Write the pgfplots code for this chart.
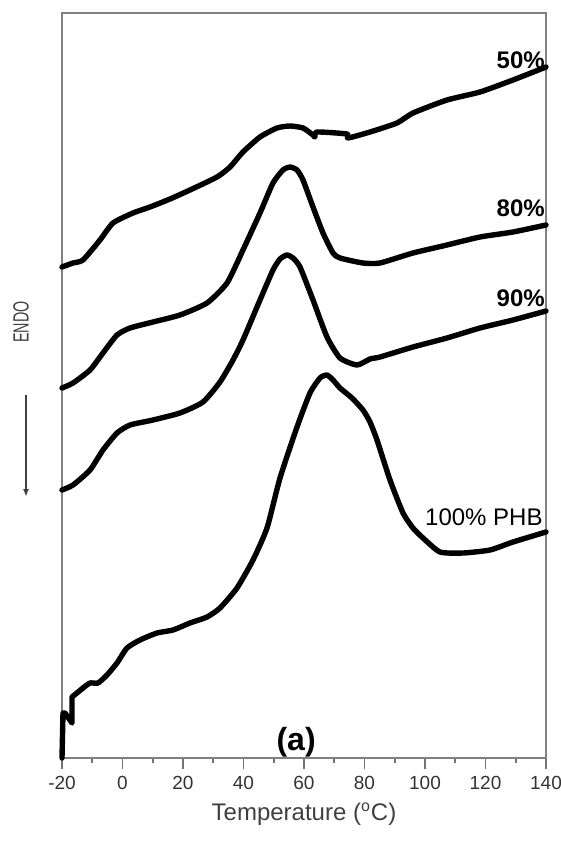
\documentclass[border=0pt]{standalone}
\usepackage{pgfplots}
\pgfplotsset{compat=1.18}
\usetikzlibrary{arrows.meta}
\usepackage{fontspec}
\setmainfont{Liberation Sans}
\begin{document}
\begin{tikzpicture}
\pgfplotsset{dsc/.style={black, no markers, line width=2.7pt, line join=round, line cap=round, smooth, tension=0.35}}
\begin{axis}[
    scale only axis,
    width=242pt, height=372.5pt,
    xmin=-20, xmax=140, ymin=0, ymax=745,
    axis line style={black!50, line width=0.9pt},
    xtick={-20,0,...,140},
    minor x tick num=1,
    ytick=\empty,
    xtick pos=bottom,
    tick align=outside,
    major tick length=5.5pt,
    minor tick length=2.5pt,
    every tick/.style={black!55, line width=0.8pt},
    tick label style={font=\fontsize{9.5}{11}\selectfont, text=black!80},
    /pgf/number format/assume math mode=true,
    xlabel={Temperature (\textsuperscript{o}C)},
    xlabel style={font=\fontsize{12}{14}\selectfont, text=black!75},
    clip=false,
]
% 100% PHB (start-up step, then the curve)
\addplot[dsc, sharp plot] coordinates {
    (-20,0) (-19.67,45) (-19.0,45) (-16.7,35) (-16.7,61) (-13.06,70)
};
\addplot[dsc] coordinates {
    (-13.06,70) (-10.74,75)
    (-8.1,75) (-5.12,83) (-1.82,95) (1.49,110) (5.79,118) (11.40,125) (16.69,128)
    (22.31,135) (27.93,141) (32.23,150) (37.85,170) (43.14,198) (47.77,230)
    (52.07,280) (57.69,331) (61.98,365) (65.29,380) (67.60,383) (69.6,378)
    (71.90,370) (75.87,360) (79.50,348) (81.82,336) (84.13,318) (88.43,278)
    (92.73,245) (96.03,230) (99.34,220) (104.96,206) (112.56,205) (121.49,208)
    (129.09,216) (140,226)
};
% 90%
\addplot[dsc] coordinates {
    (-20,268) (-16.36,273) (-10.74,288) (-6.45,308) (-1.82,325) (2.48,333)
    (10.08,338) (19.0,345) (26.61,356) (32.23,376) (36.53,398) (39.83,418)
    (45.45,458) (49.75,488) (52.07,499) (54.38,503) (56.36,500) (58.68,491)
    (62.98,458) (67.60,421) (71.90,400) (77.52,393) (81.82,399) (85.12,401)
    (96.03,411) (107.27,420) (118.18,430) (129.09,438) (140,447)
};
% 80%
\addplot[dsc] coordinates {
    (-20,370) (-16.36,375) (-10.74,388) (-6.45,405) (-1.82,423) (2.48,430)
    (10.08,436) (19.0,443) (27.93,455) (34.55,475) (39.83,508) (45.45,545)
    (49.75,575) (53.06,588) (55.37,591) (57.69,588) (59.67,578) (62.98,551)
    (66.28,525) (69.59,505) (71.90,500) (79.50,495) (85.12,495) (96.03,505)
    (107.27,513) (118.18,521) (129.09,526) (140,533)
};
% 50%
\addplot[dsc] coordinates {
    (-20,491) (-16.36,495) (-13.06,498) (-7.44,518) (-3.14,535) (3.47,545)
    (9.09,551) (15.70,559) (22.31,568) (31.24,581) (35.54,591) (39.83,606)
    (45.45,621) (51.07,630) (55.37,632) (59.67,630) (62.98,623) (63.6,621)
    (64.30,626) (74.21,624) (74.55,620) (81.82,626) (90.74,635) (96.03,645)
    (107.27,658) (118.18,666) (129.09,678) (140,691)
};
\node[anchor=east, inner sep=0pt, font=\fontsize{12}{14}\selectfont\bfseries] at (axis cs:139.7,698) {50\%};
\node[anchor=east, inner sep=0pt, font=\fontsize{12}{14}\selectfont\bfseries] at (axis cs:139.7,550) {80\%};
\node[anchor=east, inner sep=0pt, font=\fontsize{12}{14}\selectfont\bfseries] at (axis cs:139.7,460) {90\%};
\node[anchor=east, inner sep=0pt, font=\fontsize{12}{14}\selectfont] at (axis cs:139,241) {100\% PHB};
\node[inner sep=0pt, font=\fontsize{16}{18}\selectfont\bfseries] at (axis cs:57.4,16) {(a)};
\node[rotate=90, inner sep=0pt, font=\fontsize{11}{13}\selectfont, text=black!75] at (axis cs:-33.5,436) {\scalebox{0.65}[1]{ENDO}};
\draw[black!75, line width=0.8pt, -{Latex[length=4pt,width=3pt]}] (axis cs:-31.9,363) -- (axis cs:-31.9,261);
\coordinate (bbl) at (rel axis cs:-0.1281,-0.11275);
\coordinate (btr) at (rel axis cs:1.0310,1.01745);
\end{axis}
\pgfresetboundingbox
\useasboundingbox (bbl) rectangle (btr);
\end{tikzpicture}
\end{document}
